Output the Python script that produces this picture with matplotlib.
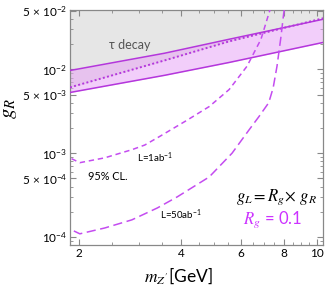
import matplotlib
matplotlib.use("Agg")
import matplotlib.pyplot as plt
from matplotlib.ticker import FixedLocator, MultipleLocator, NullFormatter, FixedFormatter

plt.rcParams['font.family'] = ['Lato', 'DejaVu Sans']
plt.rcParams['mathtext.fontset'] = 'custom'
plt.rcParams['mathtext.rm'] = 'Lato'
plt.rcParams['mathtext.it'] = 'Lato:italic'

# ---- data ----
m_band = [1.88, 3.57, 5.53, 10.47]
gR_upper = [0.0097, 0.0156, 0.0229, 0.0397]
gR_lower = [0.0053, 0.0085, 0.0121, 0.0210]

m_tau = [1.88, 3.57, 5.53, 10.47]
gR_tau = [0.0061, 0.0128, 0.0216, 0.0408]

m_L1 = [1.90, 2.01, 2.38, 2.86, 3.12, 3.45, 4.14, 4.83, 5.53, 6.24, 6.86, 7.33]
g_L1 = [8.6e-4, 7.7e-4, 8.8e-4, 1.10e-3, 1.25e-3, 1.58e-3, 2.45e-3, 3.6e-3,
        5.75e-3, 1.09e-2, 2.29e-2, 5.5e-2]

m_L50 = [1.93, 2.01, 2.38, 2.86, 3.40, 3.89, 4.83, 5.64, 6.33, 6.77, 7.23,
         7.45, 7.65, 7.85, 8.00, 8.06]
g_L50 = [1.18e-4, 1.09e-4, 1.28e-4, 1.60e-4, 2.22e-4, 3.01e-4, 5.2e-4, 1.0e-3,
         1.9e-3, 2.74e-3, 4.0e-3, 6.0e-3, 1.1e-2, 2.4e-2, 4.6e-2, 5.6e-2]

xticks = [2, 4, 6, 8, 10]
xticklabels = ['2', '4', '6', '8', '10']
yticks = [1e-4, 5e-4, 1e-3, 5e-3, 1e-2, 5e-2]
yticklabels = [r'$10^{-4}$', r'$5\,\times\,10^{-4}$', r'$10^{-3}$',
               r'$5\,\times\,10^{-3}$', r'$10^{-2}$', r'$5\,\times\,10^{-2}$']

xlim = (1.88, 10.45)
ylim = (8.0e-5, 5.1e-2)

# ---- figure ----
fig = plt.figure(figsize=(3.30, 2.89), dpi=100)
ax = fig.add_axes([0.212, 0.152, 0.767, 0.813])
ax.set_xscale('log')
ax.set_yscale('log')
ax.set_xlim(*xlim)
ax.set_ylim(*ylim)

line_col = '#b436dc'
dash_col = '#c44cf0'

# tau decay excluded region (above dotted line)
ax.fill_between(m_tau, gR_tau, [ylim[1] * 2] * len(m_tau), color='#e6e6e6',
                linewidth=0, zorder=1)
# band
ax.fill_between(m_band, gR_lower, gR_upper, color='#e9a6f6', alpha=0.55,
                linewidth=0, zorder=2)
ax.plot(m_band, gR_upper, color=line_col, lw=1.1, zorder=3)
ax.plot(m_band, gR_lower, color=line_col, lw=1.1, zorder=3)
ax.plot(m_tau, gR_tau, color=line_col, lw=1.4, ls=(0, (1, 1.2)), zorder=3)

ax.plot(m_L1, g_L1, color=dash_col, lw=1.1, ls=(0, (3.5, 2.5)), zorder=3)
ax.plot(m_L50, g_L50, color=dash_col, lw=1.1, ls=(0, (6, 3)), zorder=3)

# ticks
ax.xaxis.set_major_locator(FixedLocator(xticks))
ax.xaxis.set_major_formatter(FixedFormatter(xticklabels))
ax.xaxis.set_minor_locator(MultipleLocator(0.5))
ax.xaxis.set_minor_formatter(NullFormatter())
ax.yaxis.set_major_locator(FixedLocator(yticks))
ax.yaxis.set_major_formatter(FixedFormatter(yticklabels))
minor_y = [k * 10.0 ** e for e in (-5, -4, -3, -2) for k in range(2, 10)
           if k != 5]
ax.yaxis.set_minor_locator(FixedLocator(minor_y))
ax.yaxis.set_minor_formatter(NullFormatter())
ax.tick_params(which='both', direction='in', top=True, right=True,
               color='#888888', labelsize=8.5, pad=2)
ax.tick_params(which='major', length=4, width=0.8)
ax.tick_params(which='minor', length=2.5, width=0.6)
for s in ax.spines.values():
    s.set_color('#888888')
    s.set_linewidth(0.9)

# labels
ax.set_ylabel(r'$g_R$', fontsize=15, math_fontfamily='stix', labelpad=2)
ax.yaxis.set_label_coords(-0.2, 0.58)
ax.set_xlabel(r"$m_{Z'}$[GeV]", fontsize=12.5, math_fontfamily='stix')
ax.xaxis.set_label_coords(0.43, -0.085)

# annotations
ax.text(2.82, 1.95e-2, 'τ decay', fontsize=9, color='#555555',
        ha='center', va='center')
ax.text(2.96, 8.9e-4, r'L=1ab$^{-1}$', fontsize=7, color='black',
        ha='left', va='center')
ax.text(2.43, 5.2e-4, '95% CL.', fontsize=7.8, color='black',
        ha='center', va='center')
ax.text(3.45, 1.84e-4, r'L=50ab$^{-1}$', fontsize=7, color='black',
        ha='left', va='center')
ax.text(5.79, 3.0e-4, r'$g_L = R_g\!\times\, g_R$', fontsize=12,
        math_fontfamily='stix', color='black', ha='left', va='center')
ax.text(6.06, 1.6e-4, r'$R_g$ = 0.1', fontsize=12, math_fontfamily='stix',
        color='#cc33ff', ha='left', va='center')

fig.savefig('out.png', dpi=100)
